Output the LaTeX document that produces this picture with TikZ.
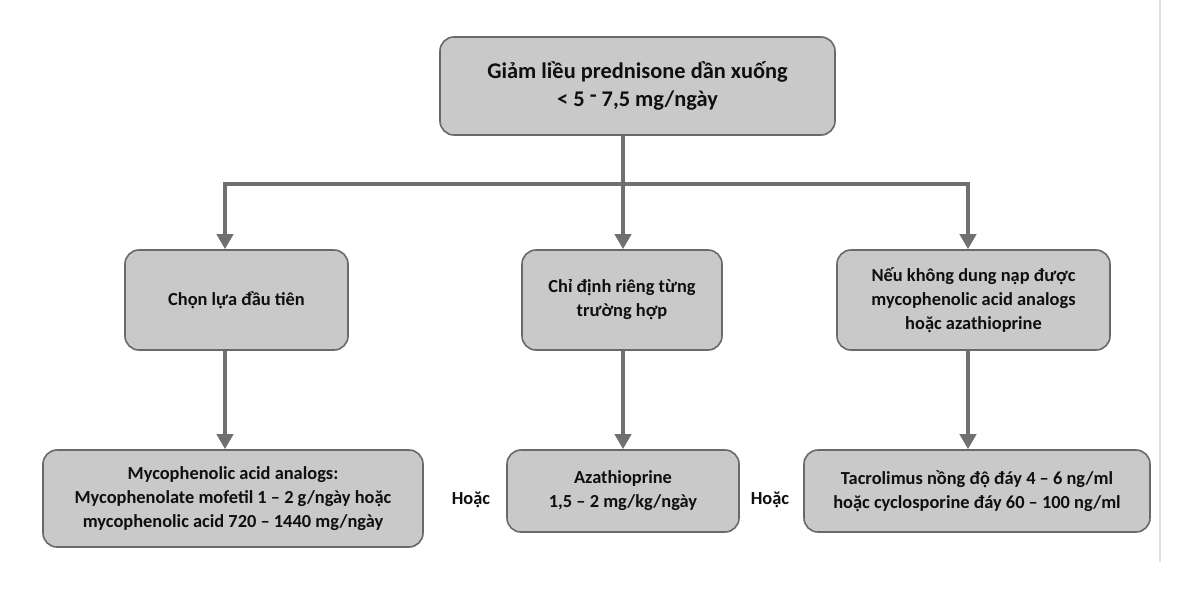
\documentclass[tikz,border=0pt]{standalone}
\usepackage{fontspec}
\setmainfont{Carlito}
\usetikzlibrary{arrows.meta}
\definecolor{boxfill}{RGB}{201,201,201}
\definecolor{boxdraw}{RGB}{105,105,105}
\definecolor{arrowc}{RGB}{112,112,112}
\definecolor{txt}{RGB}{15,15,15}
\definecolor{sideline}{RGB}{222,222,222}
\begin{document}
\begin{tikzpicture}[x=0.5pt,y=-0.5pt,
  box/.style={draw=boxdraw,fill=boxfill,line width=0.8pt,rounded corners=7pt,
    align=center,text=txt,font=\fontsize{9.2}{12}\selectfont\bfseries,inner sep=0pt},
  topbox/.style={box,font=\fontsize{11.2}{14}\selectfont\bfseries},
  conn/.style={draw=arrowc,line width=2.4pt},
  arr/.style={conn,-{Triangle[width=8pt,length=7.5pt]}},
  orlabel/.style={text=txt,font=\fontsize{9.2}{12}\selectfont\bfseries}]
\useasboundingbox (0,0) rectangle (1200,591);
\fill[white] (0,0) rectangle (1200,591);
\draw[sideline,line width=1pt] (1160,0) -- (1160,562);

\node[topbox,minimum width=395*0.5pt,minimum height=98*0.5pt] (top) at (637.5,86)
  {Giảm liều prednisone dần xuống\\< 5 \raisebox{0.35ex}{-} 7,5 mg/ngày};

\node[box,minimum width=223*0.5pt,minimum height=100*0.5pt] (b1) at (236.5,300) {Chọn lựa đầu tiên};
\node[box,minimum width=200*0.5pt,minimum height=100*0.5pt] (b2) at (622,300) {Chỉ định riêng từng\\trường hợp};
\node[box,minimum width=273*0.5pt,minimum height=100*0.5pt] (b3) at (973.5,300) {Nếu không dung nạp được\\mycophenolic acid analogs\\hoặc azathioprine};

\node[box,minimum width=380*0.5pt,minimum height=97*0.5pt] (c1) at (233,498.5) {Mycophenolic acid analogs:\\Mycophenolate mofetil 1 – 2 g/ngày hoặc\\mycophenolic acid 720 – 1440 mg/ngày};
\node[box,minimum width=232*0.5pt,minimum height=82*0.5pt] (c2) at (623,491) {Azathioprine\\1,5 – 2 mg/kg/ngày};
\node[box,minimum width=346*0.5pt,minimum height=82*0.5pt] (c3) at (977,491) {Tacrolimus nồng độ đáy 4 – 6 ng/ml\\hoặc cyclosporine đáy 60 – 100 ng/ml};

\node[orlabel] (or1) at (471,500) {Hoặc};
\node[orlabel] (or2) at (770,500) {Hoặc};

\coordinate (j) at (623,184);
\coordinate (jl) at (225,184);
\coordinate (jr) at (968,184);

\draw[conn] (top.south -| j) -- (j);
\draw[conn,line cap=rect] (jl) -- (jr);
\draw[arr] (jl) -- (jl |- b1.north);
\draw[arr] (j) -- (j |- b2.north);
\draw[arr] (jr) -- (jr |- b3.north);
\draw[arr] (b1.south -| jl) -- (jl |- c1.north);
\draw[arr] (b2.south -| j) -- (j |- c2.north);
\draw[arr] (b3.south -| jr) -- (jr |- c3.north);
\end{tikzpicture}
\end{document}
